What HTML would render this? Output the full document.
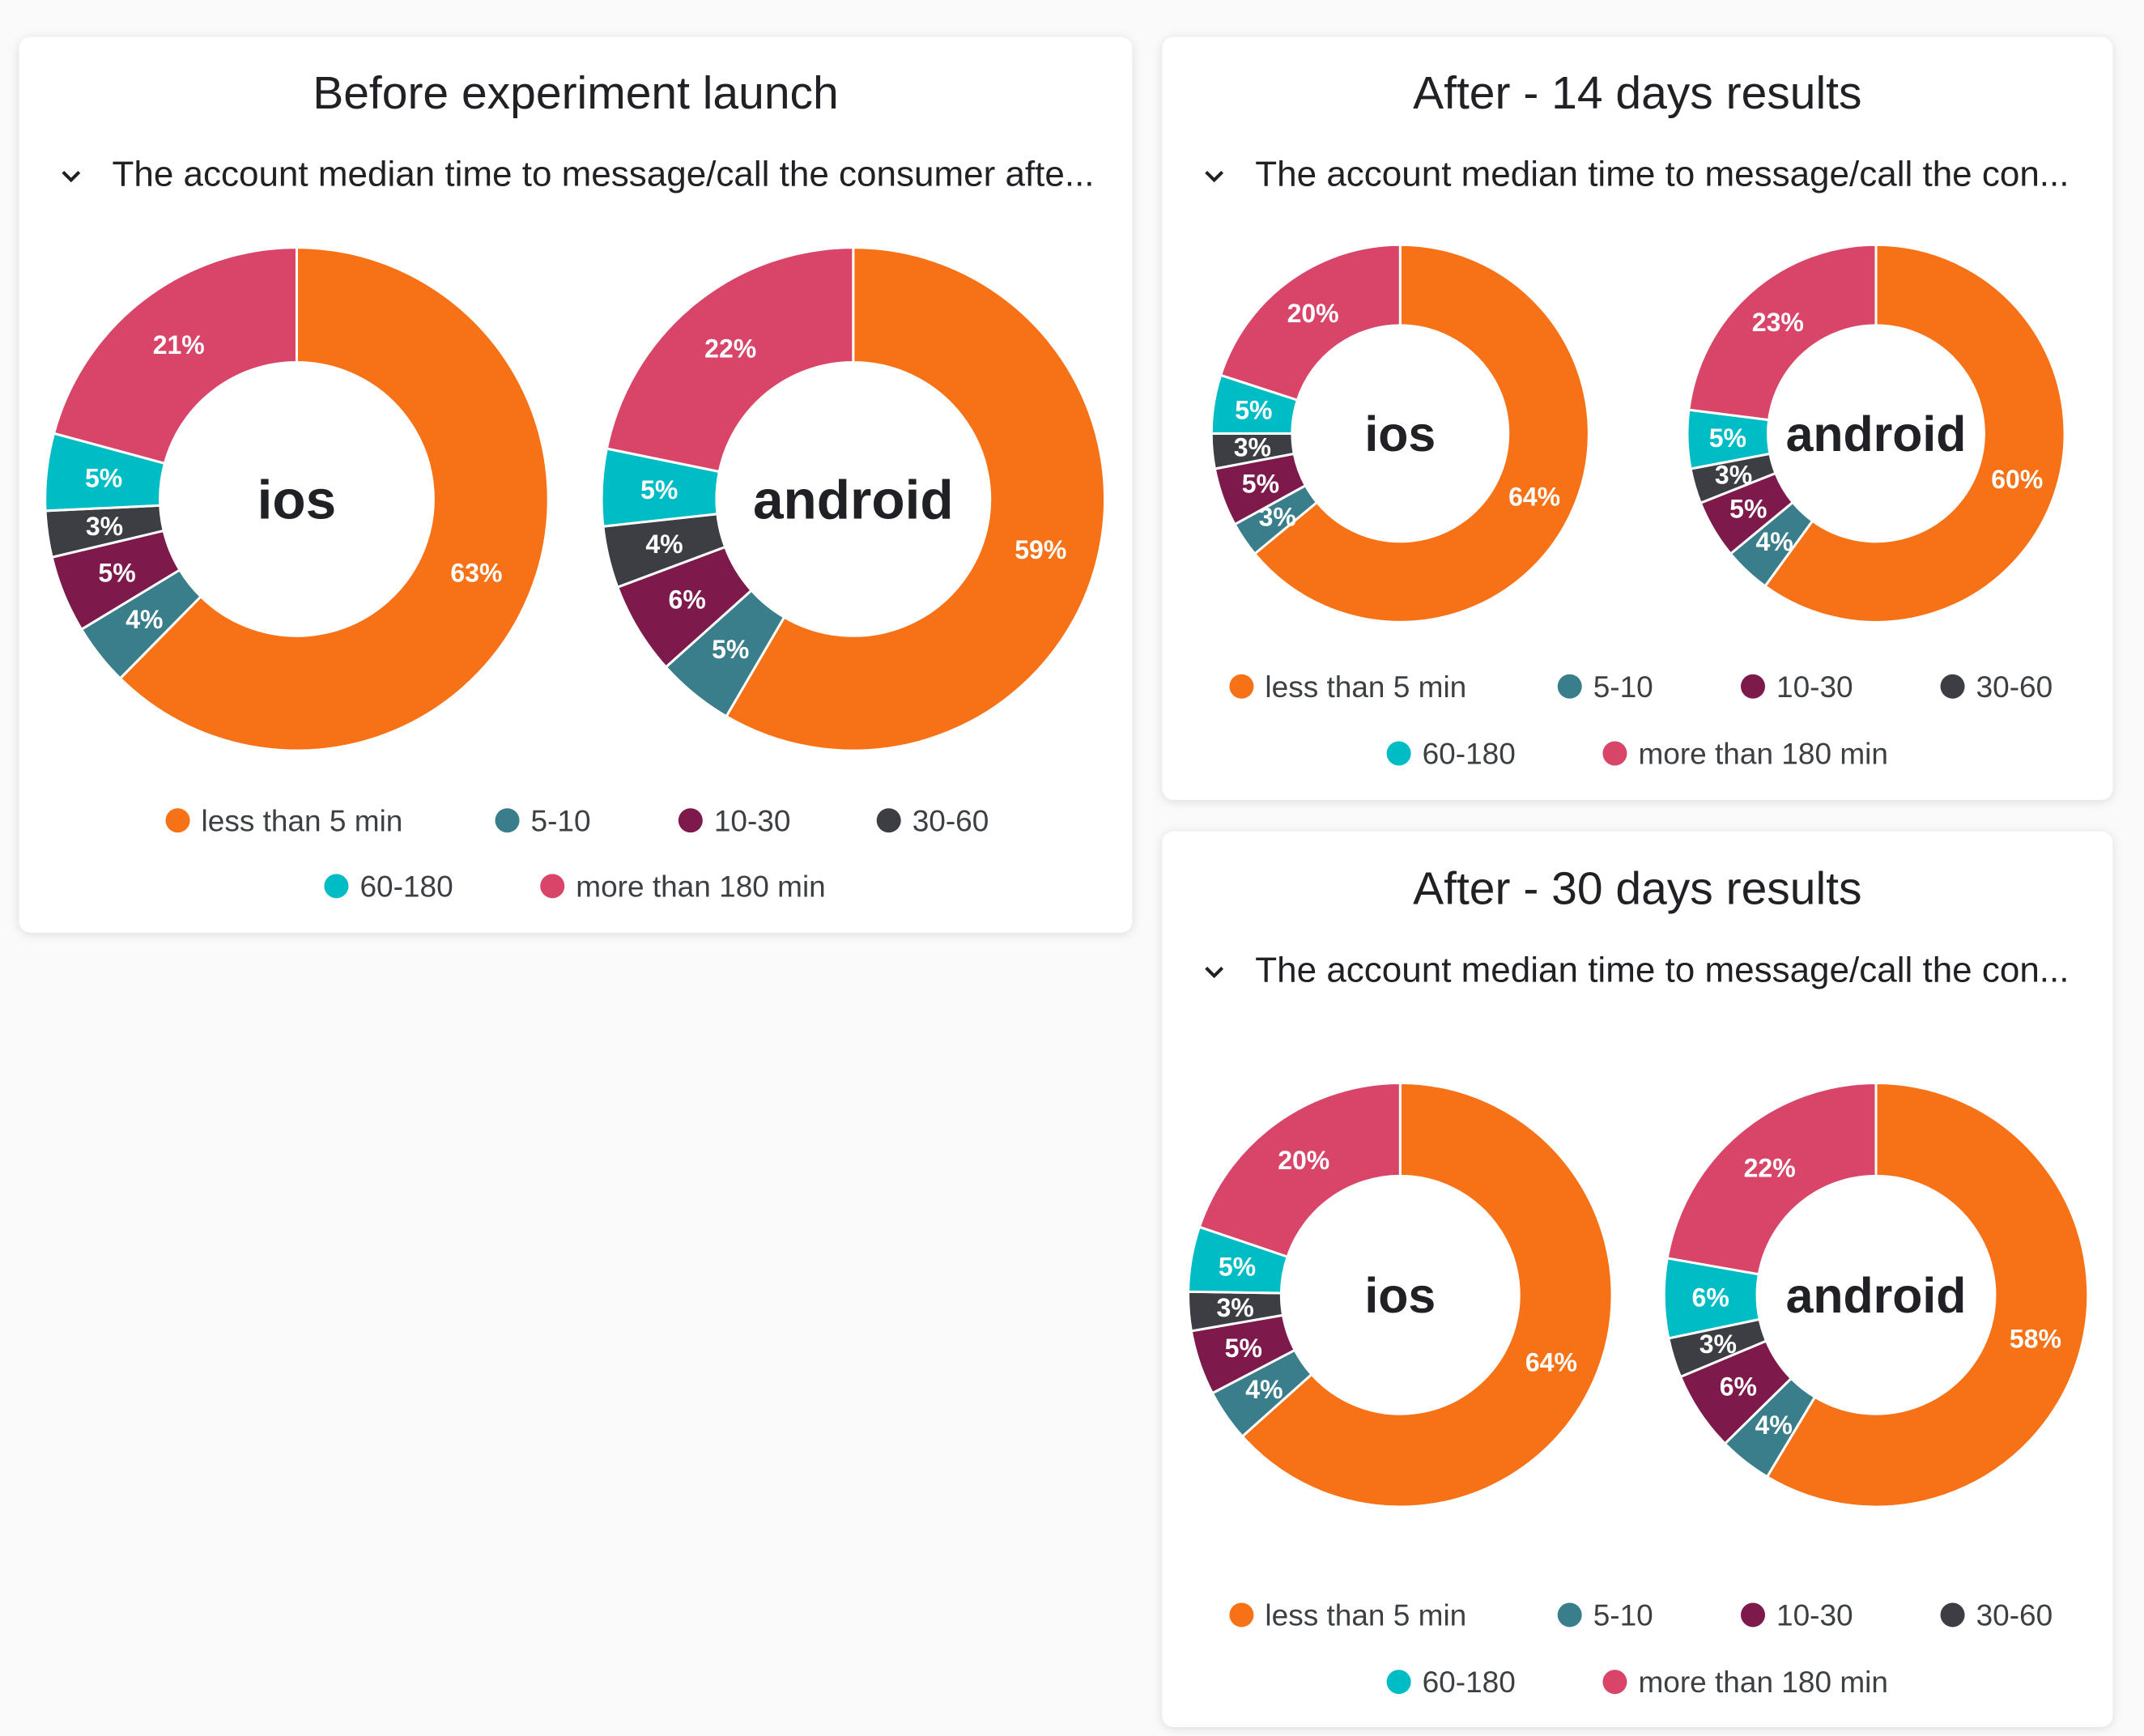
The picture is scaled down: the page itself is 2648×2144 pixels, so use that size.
<!DOCTYPE html>
<html><head><meta charset="utf-8">
<style>
html,body{margin:0;padding:0;background:#fafafa;width:2648px;height:2144px;overflow:hidden}
svg{display:block}
text{font-family:"Liberation Sans",sans-serif}
</style></head>
<body>
<svg id="root" width="2648" height="2144" viewBox="0 0 2648 2144" xmlns="http://www.w3.org/2000/svg">
<defs>
<filter id="sh" x="-5%" y="-5%" width="110%" height="110%"><feDropShadow dx="0" dy="2" stdDeviation="6" flood-color="#000" flood-opacity="0.12"/></filter>
</defs>
</svg>
<script>
const categories = ["less than 5 min","5-10","10-30","30-60","60-180","more than 180 min"];
const colors = ["#f77116","#3a7d8b","#7e1a4b","#3c3e43","#00bcc4","#d84569"];
const beforeIos = [63,4,5,3,5,21];
const beforeAndroid = [59,5,6,4,5,22];
const d14Ios = [64,3,5,3,5,20];
const d14Android = [60,4,5,3,5,23];
const d30Ios = [64,4,5,3,5,20];
const d30Android = [58,4,6,3,6,22];

const S = 2648/1568;
const NS = "http://www.w3.org/2000/svg";
const root = document.getElementById('root');
function el(tag, attrs, parent){const e=document.createElementNS(NS,tag);for(const k in attrs)e.setAttribute(k,attrs[k]);(parent||root).appendChild(e);return e;}

const cards = [
 {name:"before-card", title:"Before experiment launch", sub:"The account median time to message/call the consumer afte...",
  box:[14,27,828,682], titleY:68, subY:127, chevX:52, subX:82,
  donuts:[{label:"ios",cx:217,cy:365,ro:184,ri:100,data:beforeIos,fs:40},{label:"android",cx:624,cy:365,ro:184,ri:100,data:beforeAndroid,fs:40}],
  legend:{r1:600,r2:648,x1:[130,371,505,650],x2:[246,404]}},
 {name:"after-14-days-card", title:"After - 14 days results", sub:"The account median time to message/call the con...",
  box:[850,27,1545,585], titleY:68, subY:127, chevX:888, subX:918,
  donuts:[{label:"ios",cx:1024,cy:317,ro:138,ri:79,data:d14Ios,fs:36},{label:"android",cx:1372,cy:317,ro:138,ri:79,data:d14Android,fs:36}],
  legend:{r1:502,r2:551,x1:[908,1148,1282,1428],x2:[1023,1181]}},
 {name:"after-30-days-card", title:"After - 30 days results", sub:"The account median time to message/call the con...",
  box:[850,608,1545,1263], titleY:650, subY:709, chevX:888, subX:918,
  donuts:[{label:"ios",cx:1024,cy:947,ro:155,ri:87,data:d30Ios,fs:36},{label:"android",cx:1372,cy:947,ro:155,ri:87,data:d30Android,fs:36}],
  legend:{r1:1181,r2:1230,x1:[908,1148,1282,1428],x2:[1023,1181]}}
];

function pt(cx,cy,r,a){return [cx+r*Math.sin(a), cy-r*Math.cos(a)];}

cards.forEach(c=>{
  const g = el('g',{});
  
  
  const [x0,y0,x1,y1]=c.box;
  const bg = el('rect',{x:x0*S,y:y0*S,width:(x1-x0)*S,height:(y1-y0)*S,rx:14,fill:"#fff",filter:"url(#sh)"},g);
  
  
  const cx = (x0+x1)/2*S;
  const t = el('text',{x:cx,y:c.titleY*S+19,"text-anchor":"middle","font-size":57,fill:"#202124"},g);
  t.textContent=c.title;
  
  
  const ch = el('path',{d:`M${c.chevX*S-10} ${c.subY*S-2} l10 10 l10 -10`,stroke:"#202124","stroke-width":4,fill:"none"},g);
  
  
  const st = el('text',{x:c.subX*S,y:c.subY*S+15,"font-size":44,fill:"#202124"},g);
  st.textContent=c.sub;
  
  

  c.donuts.forEach(d=>{
    const dg = el('g',{},g);
    
    
    const total = d.data.reduce((a,b)=>a+b,0);
    const CX=d.cx*S, CY=d.cy*S, RO=d.ro*S, RI=d.ri*S;
    let acc=0;
    d.data.forEach((v,i)=>{
      const a0=acc/total*2*Math.PI; acc+=v; const a1=acc/total*2*Math.PI;
      const large = (a1-a0)>Math.PI?1:0;
      const p0=pt(CX,CY,RO,a0),p1=pt(CX,CY,RO,a1),q1=pt(CX,CY,RI,a1),q0=pt(CX,CY,RI,a0);
      const p = el('path',{d:`M${p0[0]} ${p0[1]} A${RO} ${RO} 0 ${large} 1 ${p1[0]} ${p1[1]} L${q1[0]} ${q1[1]} A${RI} ${RI} 0 ${large} 0 ${q0[0]} ${q0[1]}Z`,fill:colors[i],stroke:"#fff","stroke-width":3},dg);
      
      
      const am=(a0+a1)/2, rm=(RO+RI)/2;
      const lp=pt(CX,CY,rm,am);
      const lt = el('text',{x:lp[0],y:lp[1]+11,"text-anchor":"middle","font-size":32,"font-weight":"bold",fill:"#fff"},dg);
      lt.textContent=v+'%';
      
      
    });
    const ct = el('text',{x:CX,y:CY+d.fs*S*0.36,"text-anchor":"middle","font-size":d.fs*S,"font-weight":"bold",fill:"#202124"},dg);
    ct.textContent=d.label;
    
    
  });

  const lg = el('g',{},g);
  
  
  const items = [[0,c.legend.x1[0],c.legend.r1],[1,c.legend.x1[1],c.legend.r1],[2,c.legend.x1[2],c.legend.r1],[3,c.legend.x1[3],c.legend.r1],[4,c.legend.x2[0],c.legend.r2],[5,c.legend.x2[1],c.legend.r2]];
  items.forEach(([i,x,y])=>{
    const e = el('g',{},lg);
    
    
    el('circle',{cx:x*S,cy:y*S,r:15,fill:colors[i]},e);
    const tx = el('text',{x:x*S+29,y:y*S+13,"font-size":37,fill:"#3c4043"},e);
    tx.textContent=categories[i];
  });
});
</script>
</body></html>
